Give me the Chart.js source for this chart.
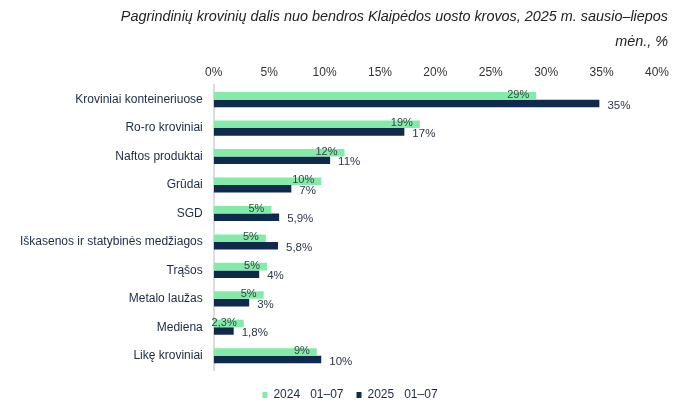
<!DOCTYPE html>
<html>
<head>
<meta charset="utf-8">
<script src="https://cdn.jsdelivr.net/npm/chart.js@4.4.0/dist/chart.umd.min.js"></script>
<style>
  html, body { margin: 0; padding: 0; background: #fff; }
  #wrap { width: 682px; height: 413px; }
</style>
</head>
<body>
<div id="wrap"><canvas id="cargoChart"></canvas></div>
<script>
const categories = [
  "Kroviniai konteineriuose",
  "Ro-ro kroviniai",
  "Naftos produktai",
  "Grūdai",
  "SGD",
  "Iškasenos ir statybinės medžiagos",
  "Trąšos",
  "Metalo laužas",
  "Mediena",
  "Likę kroviniai",
];
const share2024 = [29.1, 18.6, 11.8, 9.7, 5.2, 4.7, 4.8, 4.5, 2.7, 9.3];
const share2025 = [34.8, 17.2, 10.5, 7.0, 5.9, 5.8, 4.1, 3.2, 1.8, 9.7];
const labels2024 = ["29%", "19%", "12%", "10%", "5%", "5%", "5%", "5%", "2,3%", "9%"];
const labels2025 = ["35%", "17%", "11%", "7%", "5,9%", "5,8%", "4%", "3%", "1,8%", "10%"];
const xTicks = ["0%", "5%", "10%", "15%", "20%", "25%", "30%", "35%", "40%"];
const titleLines = [
  "Pagrindinių krovinių dalis nuo bendros Klaipėdos uosto krovos, 2025 m. sausio–liepos",
  "mėn., %",
];

const FONT = "'Liberation Sans', Arial, sans-serif";

// title is right aligned to the canvas edge, not the chart area
const cornerTitle = {
  id: "cornerTitle",
  afterLayout(chart) {
    // legend sits a bit lower and right of centre in the original
    chart.legend.left += 17;
    chart.legend.right += 17;
    chart.legend.top += 6;
    chart.legend.bottom += 6;
  },
  afterDraw(chart) {
    const ctx = chart.ctx;
    ctx.save();
    ctx.font = "italic 14.4px " + FONT;
    ctx.fillStyle = "#222";
    ctx.textAlign = "right";
    ctx.textBaseline = "middle";
    ctx.fillText(titleLines[0], chart.width - 14, 17);
    ctx.fillText(titleLines[1], chart.width - 14, 42);
    ctx.restore();
  },
};

// draws the value labels next to the bar ends
const barLabels = {
  id: "barLabels",
  afterDatasetsDraw(chart) {
    const ctx = chart.ctx;
    ctx.save();
    ctx.textBaseline = "middle";
    chart.getDatasetMeta(0).data.forEach((bar, i) => {
      ctx.font = "11px " + FONT;
      ctx.fillStyle = "#2f4a40";
      ctx.textAlign = "right";
      ctx.fillText(labels2024[i], bar.x - 7, bar.y - 1);
    });
    chart.getDatasetMeta(1).data.forEach((bar, i) => {
      ctx.font = "11.5px " + FONT;
      ctx.fillStyle = "#2e3648";
      ctx.textAlign = "left";
      ctx.fillText(labels2025[i], bar.x + 8, bar.y + 2);
    });
    ctx.restore();
  },
};

const ctx = document.getElementById("cargoChart").getContext("2d");
const cargoChart = new Chart(ctx, {
  type: "bar",
  data: {
    labels: categories,
    datasets: [
      {
        label: "2024   01–07",
        data: share2024,
        backgroundColor: "#84eaa7",
        categoryPercentage: 0.53,
        barPercentage: 1,
      },
      {
        label: "2025   01–07",
        data: share2025,
        backgroundColor: "#0f2a4d",
        categoryPercentage: 0.53,
        barPercentage: 1,
      },
    ],
  },
  options: {
    indexAxis: "y",
    responsive: true,
    maintainAspectRatio: false,
    animation: false,
    layout: { padding: { left: 9, right: 25, top: 59, bottom: 8 } },
    scales: {
      x: {
        position: "top",
        min: 0,
        max: 40,
        grid: { display: false, drawTicks: false },
        border: { display: false },
        ticks: {
          stepSize: 5,
          padding: 6,
          color: "#333",
          font: { family: FONT, size: 12 },
          callback: (v, i) => xTicks[i],
        },
      },
      y: {
        grid: { display: false, drawTicks: false },
        border: { display: true, color: "#dcdcdc", width: 2 },
        ticks: {
          padding: 11,
          color: "#1c2a44",
          font: { family: FONT, size: 12 },
        },
      },
    },
    plugins: {
      title: { display: false },
      legend: {
        position: "bottom",
        labels: {
          boxWidth: 5,
          boxHeight: 6,
          padding: 13,
          color: "#1c2a44",
          font: { family: FONT, size: 12 },
        },
      },
      tooltip: { enabled: false },
    },
  },
  plugins: [barLabels, cornerTitle],
});
</script>
</body>
</html>
